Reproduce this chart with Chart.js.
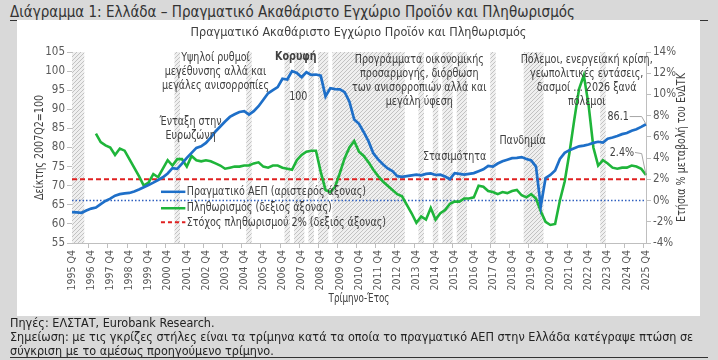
<!DOCTYPE html>
<html><head><meta charset="utf-8">
<script src="https://cdn.jsdelivr.net/npm/chart.js@4.4.1/dist/chart.umd.min.js"></script>
<style>
html,body{margin:0;padding:0;}
body{width:718px;height:360px;background:#d9d9d9;position:relative;overflow:hidden;font-family:'Liberation Sans Narrow','DejaVu Sans Condensed','Roboto',sans-serif;}
#hdr{position:absolute;left:10px;top:3px;font-size:15px;line-height:18px;color:#333;white-space:nowrap;}
#rule{position:absolute;left:10px;width:698px;top:20px;height:1px;background:#333;}
#panel{position:absolute;left:17px;top:20px;width:683px;height:296px;background:#fff;}
#ctitle{position:absolute;left:0;top:4px;width:683px;text-align:center;font-size:12.5px;line-height:16px;color:#404040;}
#cv{position:absolute;left:0;top:0;}
#notes{position:absolute;left:10px;top:316px;font-size:12.5px;color:#222;line-height:14px;white-space:nowrap;}
#bottom{position:absolute;left:10px;width:698px;top:357px;height:1px;background:#333;}
</style></head>
<body>
<div id="hdr">Διάγραμμα 1: Ελλάδα – Πραγματικό Ακαθάριστο Εγχώριο Προϊόν και Πληθωρισμός</div>
<div id="rule"></div>
<div id="panel">
  <canvas id="cv" width="683" height="296"></canvas>
  <div id="ctitle">Πραγματικό Ακαθάριστο Εγχώριο Προϊόν και Πληθωρισμός</div>
</div>
<div id="notes">Πηγές: ΕΛΣΤΑΤ, Eurobank Research.<br>Σημείωση: με τις γκρίζες στήλες είναι τα τρίμηνα κατά τα οποία το πραγματικό ΑΕΠ στην Ελλάδα κατέγραψε πτώση σε<br>σύγκριση με το αμέσως προηγούμενο τρίμηνο.</div>
<div id="bottom"></div>
<script>
// ---- categories (quarters 1995 Q4 .. 2025 Q4) ----
const QUARTERS = [];
QUARTERS.push('1995 Q4');
for (let y = 1996; y <= 2025; y++) for (let q = 1; q <= 4; q++) QUARTERS.push(y + ' Q' + q);

// ---- series: real GDP index (2007Q2=100), left axis ----
const GDP = [
 63.1,63.0,62.9,63.5,64.0,64.3,65.2,66.0,66.6,67.4,
 67.8,68.0,68.1,68.5,69.0,69.6,70.2,70.8,71.5,72.2,
 73.2,74.6,74.4,75.8,77.3,78.6,79.9,80.3,81.2,82.6,
 84.2,85.5,86.8,88.0,88.7,89.3,89.5,88.6,89.5,90.8,
 92.5,94.2,95.0,95.8,98.0,97.8,100.0,99.5,98.4,99.7,
 99.0,99.1,98.8,93.4,95.5,95.3,95.2,94.5,92.0,87.3,
 86.2,84.0,81.6,78.5,76.9,75.6,74.5,73.8,72.5,72.3,
 72.5,72.7,72.9,72.7,73.1,73.2,72.8,72.9,72.4,71.7,
 73.3,73.1,72.9,73.1,73.3,73.8,74.3,75.2,75.0,75.8,
 76.4,76.8,77.2,77.3,77.5,77.0,76.6,75.0,64.6,72.0,
 72.8,74.0,77.0,78.6,79.3,79.8,80.3,80.5,80.8,81.2,
 81.5,81.3,82.3,82.6,83.0,83.5,83.8,84.4,84.8,85.4,
 86.1
];
// ---- series: HICP inflation y/y %, right axis ----
const INFL = [
 null,null,null,null,null,6.3,5.5,5.2,5.0,4.3,
 4.9,4.7,3.9,3.1,2.3,1.4,1.7,2.5,2.2,3.0,
 3.8,3.3,3.9,3.9,3.2,4.2,3.8,3.7,3.8,3.7,
 3.5,3.3,3.0,3.1,3.2,3.2,3.3,3.3,3.5,3.6,
 3.2,3.1,3.3,3.3,3.1,3.0,2.9,3.8,4.3,4.6,
 4.7,4.7,2.7,1.0,0.8,1.3,2.6,4.0,5.0,5.6,
 4.6,4.2,3.6,2.9,2.3,1.8,1.4,1.0,0.6,0.4,
 -0.4,-1.2,-2.1,-1.5,-1.8,-0.7,-1.8,-1.2,-0.9,-0.3,
 -0.1,-0.1,0.2,0.2,0.3,1.4,1.3,0.9,0.8,0.6,
 0.8,0.7,0.9,1.0,0.5,0.3,0.6,0.2,-1.0,-2.0,
 -2.3,-2.2,0.0,1.8,4.5,7.6,10.5,11.8,9.0,5.0,
 3.3,3.8,3.5,3.1,3.0,3.1,3.1,3.3,3.2,3.0,
 2.4
];
// ---- quarters with q/q fall in real GDP (grey bars) ----
const DECLINE_QUARTERS = ['1995 Q4','1996 Q1','1996 Q2','2001 Q2','2005 Q1','2007 Q1','2007 Q3','2007 Q4','2008 Q2','2008 Q4','2009 Q1',
 '2009 Q3','2009 Q4','2010 Q1','2010 Q2','2010 Q3','2010 Q4','2011 Q1','2011 Q2','2011 Q3','2011 Q4','2012 Q1','2012 Q2','2012 Q3','2012 Q4','2013 Q1',
 '2014 Q1','2014 Q4','2015 Q2','2015 Q3','2016 Q1','2016 Q2','2017 Q4','2019 Q3','2019 Q4','2020 Q1','2020 Q2','2023 Q3'];
const INFLATION_TARGET = 2;   // % (right axis)
const ZERO_LINE = 0;          // % (right axis)
const LEFT_TICKS = {min:55, max:105, step:5};
const RIGHT_TICKS = {min:-4, max:14, step:2};

const FONT = "'Liberation Sans Narrow','DejaVu Sans Condensed','Roboto',sans-serif";
Chart.defaults.font.family = FONT;
Chart.defaults.font.size = 11.5;
Chart.defaults.color = '#595959';

function hatch(){
  const c = document.createElement('canvas'); c.width = 4; c.height = 4;
  const g = c.getContext('2d');
  g.fillStyle = '#efefef'; g.fillRect(0,0,4,4);
  g.strokeStyle = '#c2c2c2'; g.lineWidth = 1;
  g.beginPath(); g.moveTo(0,4); g.lineTo(4,0); g.moveTo(-1,1); g.lineTo(1,-1); g.moveTo(3,5); g.lineTo(5,3); g.stroke();
  return document.getElementById('cv').getContext('2d').createPattern(c,'repeat');
}
const barData = QUARTERS.map(q => DECLINE_QUARTERS.includes(q) ? 1 : null);

const NOTES = [
 {lines:['Υψηλοί ρυθμοί','μεγέθυνσης αλλά και','μεγάλες ανισορροπίες'], i:30, v:103.4},
 {lines:['Κορυφή'], i:46.8, v:103.7, bold:true},
 {lines:['100'], i:47.3, v:93.3},
 {lines:['Ένταξη στην','Ευρωζώνη'], i:24.8, v:86.8},
 {lines:['Προγράμματα οικονομικής','προσαρμογής, διόρθωση','των ανισορροπιών αλλά και','μεγάλη ύφεση'], i:72.6, v:102.9},
 {lines:['Στασιμότητα'], i:80, v:77.7},
 {lines:['Πανδημία'], i:94.2, v:81.8},
 {lines:['Πόλεμοι, ενεργειακή κρίση,','γεωπολιτικές εντάσεις,','δασμοί … 2026 ξανά','πόλεμοι'], i:107.6, v:102.9},
 {lines:['86.1'], i:116.4, v:88.1, align:'right'},
 {lines:['2.4%'], i:117.5, v:78.7, align:'right'}
];
const LEGEND = [
 {text:'Πραγματικό ΑΕΠ (αριστερός άξονας)', color:'#1e6fc8', dash:[], v:68.4},
 {text:'Πληθωρισμός (δεξιός άξονας)', color:'#1fb53a', dash:[], v:64.1},
 {text:'Στόχος πληθωρισμού 2% (δεξιός άξονας)', color:'#e02020', dash:[4,3], v:60.4}
];
const SX = 0.85; // horizontal compression of annotation text

function txt(ctx, s, x, y, align, rot){
  ctx.save(); ctx.translate(x, y); if (rot) ctx.rotate(rot); ctx.scale(SX, 1);
  ctx.textAlign = align; ctx.fillText(s, 0, 0); ctx.restore();
}

const overlay = {
  id:'overlay',
  afterDatasetsDraw(chart){
    const ctx = chart.ctx, x = chart.scales.x, yL = chart.scales.yL, yR = chart.scales.yR;
    ctx.save();
    ctx.fillStyle = '#404040';
    ctx.textBaseline = 'middle';
    NOTES.forEach(n => {
      ctx.font = (n.bold ? 'bold ' : '') + '12.5px ' + FONT;
      const px = x.getPixelForValue(n.i);
      n.lines.forEach((t,k) => txt(ctx, t, px, yL.getPixelForValue(n.v) + k*14, n.align || 'center'));
    });
    ctx.strokeStyle = '#a6a6a6'; ctx.lineWidth = 1;
    ctx.beginPath();
    ctx.moveTo(x.getPixelForValue(116.6), yL.getPixelForValue(88.1));
    ctx.lineTo(x.getPixelForValue(119.1), yL.getPixelForValue(88.1));
    ctx.lineTo(x.getPixelForValue(120), yL.getPixelForValue(GDP[120]));
    ctx.moveTo(x.getPixelForValue(117.7), yL.getPixelForValue(78.7));
    ctx.lineTo(x.getPixelForValue(119.1), yL.getPixelForValue(78.4));
    ctx.lineTo(x.getPixelForValue(120), yR.getPixelForValue(INFL[120]));
    ctx.stroke();
    ctx.font = '12.5px ' + FONT; ctx.fillStyle = '#404040';
    LEGEND.forEach(l => {
      const py = yL.getPixelForValue(l.v);
      ctx.strokeStyle = l.color; ctx.lineWidth = l.dash.length ? 2 : 2.5; ctx.setLineDash(l.dash);
      ctx.beginPath(); ctx.moveTo(x.getPixelForValue(18.6), py); ctx.lineTo(x.getPixelForValue(23.7), py); ctx.stroke();
      ctx.setLineDash([]);
      txt(ctx, l.text, x.getPixelForValue(24.0), py, 'left');
    });
    ctx.restore();
  },
  afterDraw(chart){
    const ctx = chart.ctx, ca = chart.chartArea;
    ctx.save();
    ctx.fillStyle = '#404040'; ctx.font = '12.5px ' + FONT; ctx.textBaseline = 'middle';
    const cy = (ca.top + ca.bottom)/2;
    txt(ctx, 'Δείκτης 2007Q2=100', 23, cy, 'center', -Math.PI/2);
    txt(ctx, 'Ετήσια % μεταβολή του ΕνΔΤΚ', 665, cy, 'center', -Math.PI/2);
    ctx.font = '11.5px ' + FONT;
    txt(ctx, 'Τρίμηνο-Έτος', (ca.left + ca.right)/2, 279, 'center');
    ctx.restore();
  }
};

const axisCol = '#bfbfbf';
new Chart(document.getElementById('cv'), {
  type:'bar',
  data:{
    labels: QUARTERS,
    datasets:[
      {type:'line', label:'Πραγματικό ΑΕΠ', data:GDP, yAxisID:'yL', borderColor:'#1e6fc8', borderWidth:2.7, pointRadius:0, tension:0, order:1},
      {type:'line', label:'Πληθωρισμός', data:INFL, yAxisID:'yR', borderColor:'#1fb53a', borderWidth:2.6, pointRadius:0, tension:0, order:2},
      {type:'line', label:'Στόχος', data:[{x:QUARTERS[0],y:INFLATION_TARGET},{x:QUARTERS[QUARTERS.length-1],y:INFLATION_TARGET}], yAxisID:'yR', borderColor:'#e02020', borderWidth:2, borderDash:[5,3], pointRadius:0, order:3},
      {type:'line', label:'0', data:[{x:QUARTERS[0],y:ZERO_LINE},{x:QUARTERS[QUARTERS.length-1],y:ZERO_LINE}], yAxisID:'yR', borderColor:'#2f5fbf', borderWidth:1.5, borderDash:[1.5,2], pointRadius:0, order:4},
      {type:'bar', label:'Πτώση ΑΕΠ', data:barData, yAxisID:'yB', backgroundColor:hatch(), barPercentage:1, categoryPercentage:1, borderWidth:0, order:10, clip:0}
    ]
  },
  options:{
    responsive:false, animation:false, devicePixelRatio:1,
    layout:{padding:{top:32, left:0, right:0, bottom:0}},
    plugins:{legend:{display:false}, tooltip:{enabled:false}},
    scales:{
      x:{type:'category', offset:false,
         grid:{display:true, drawOnChartArea:false, drawTicks:true, tickLength:5, color:c => (c.index % 4 === 0 ? axisCol : 'rgba(0,0,0,0)')},
         border:{display:true, color:axisCol},
         ticks:{autoSkip:false, maxRotation:90, minRotation:90, padding:2, color:'#595959', font:{size:10.5},
                callback:(v,i) => (i % 4 === 0 ? QUARTERS[i] : '')},
         afterFit:s => { s.height = 73; }},
      yL:{position:'left', min:LEFT_TICKS.min, max:LEFT_TICKS.max,
          grid:{drawOnChartArea:false, tickLength:5, color:axisCol}, border:{color:axisCol},
          ticks:{stepSize:LEFT_TICKS.step, padding:2, color:'#595959'},
          afterFit:s => { s.width = 55; }},
      yR:{position:'right', min:RIGHT_TICKS.min, max:RIGHT_TICKS.max,
          grid:{drawOnChartArea:false, tickLength:5, color:axisCol}, border:{color:axisCol},
          ticks:{stepSize:RIGHT_TICKS.step, padding:2, color:'#595959', callback:v => v + '%'},
          afterFit:s => { s.width = 54; }},
      yB:{display:false, min:0, max:1}
    }
  },
  plugins:[overlay]
});
</script>
</body></html>
